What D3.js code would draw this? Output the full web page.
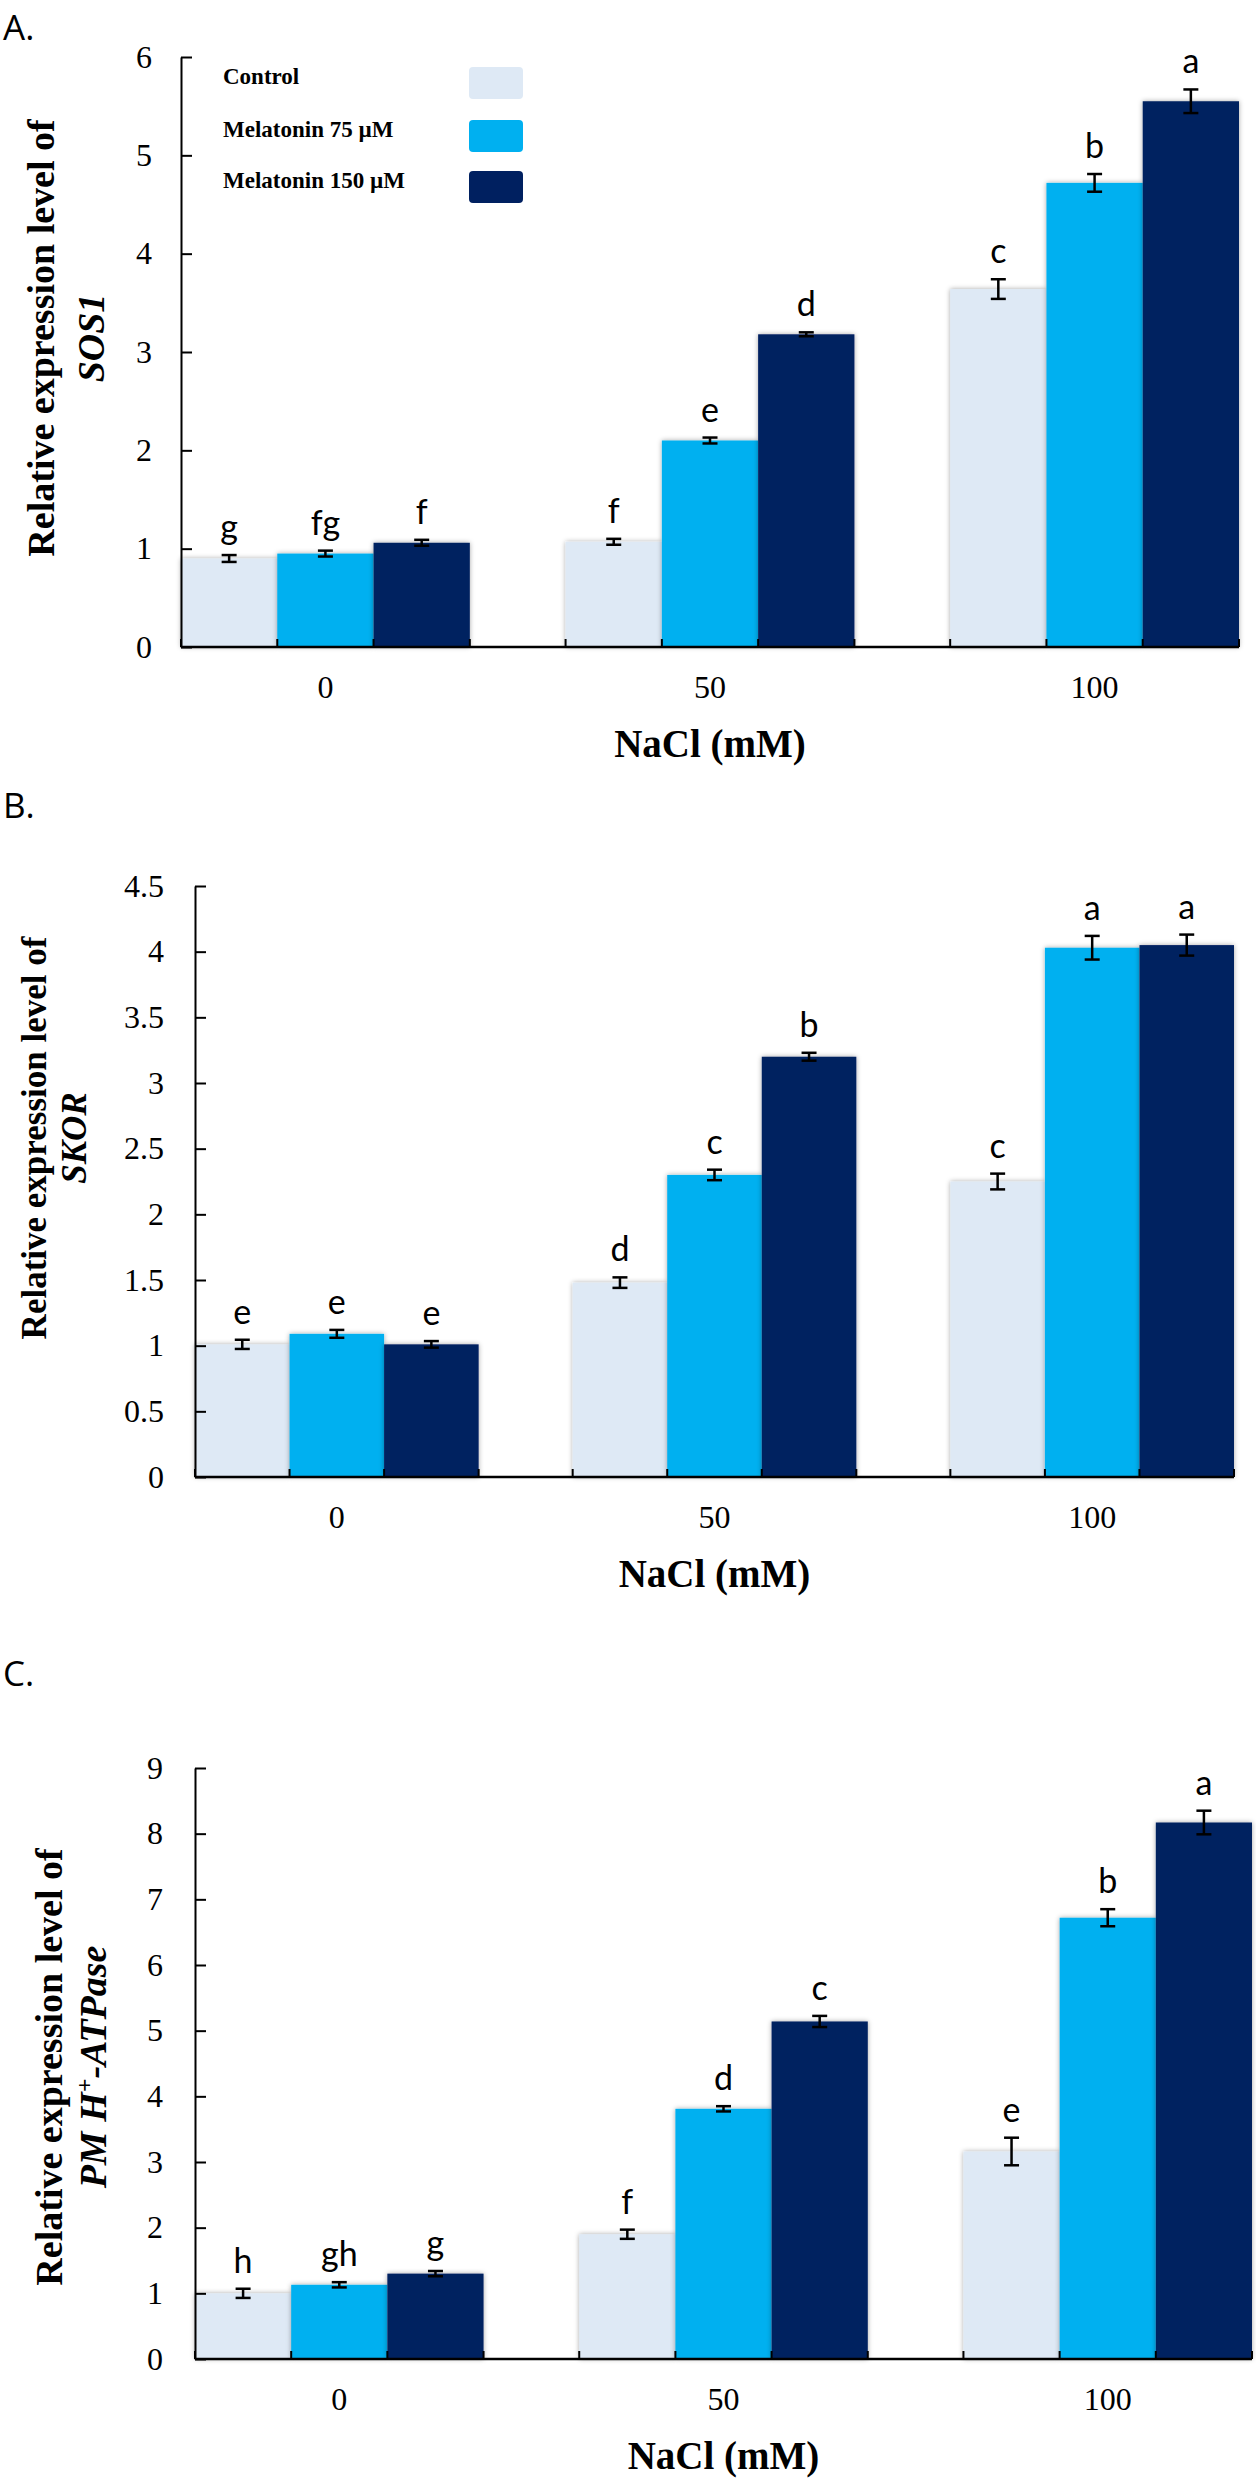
<!DOCTYPE html>
<html>
<head>
<meta charset="utf-8">
<script src="https://cdn.jsdelivr.net/npm/d3@7"></script>
<style>
  body { margin: 0; background: #fff; }
</style>
</head>
<body>
<script>
// NaCl levels on the x axis, treatments are the three bars in each group
var nacl = ["0", "50", "100"];
var treatments = ["Control", "Melatonin 75 µM", "Melatonin 150 µM"];
var colors = ["#dee9f5", "#00b0f0", "#002060"];

// rows follow nacl, columns follow treatments
var sos1Mean = [[0.90, 0.95, 1.06], [1.07, 2.10, 3.18], [3.64, 4.72, 5.55]];
var sos1Err = [[0.035, 0.03, 0.03], [0.03, 0.03, 0.02], [0.10, 0.09, 0.12]];
var sos1Letters = [["g", "fg", "f"], ["f", "e", "d"], ["c", "b", "a"]];
var sos1Ticks = [0, 1, 2, 3, 4, 5, 6];

var skorMean = [[1.01, 1.09, 1.01], [1.48, 2.30, 3.20], [2.25, 4.03, 4.05]];
var skorErr = [[0.035, 0.03, 0.025], [0.04, 0.04, 0.03], [0.06, 0.09, 0.08]];
var skorLetters = [["e", "e", "e"], ["d", "c", "b"], ["c", "a", "a"]];
var skorTicks = [0, 0.5, 1, 1.5, 2, 2.5, 3, 3.5, 4, 4.5];

var atpMean = [[1.00, 1.13, 1.30], [1.90, 3.81, 5.14], [3.16, 6.72, 8.17]];
var atpErr = [[0.07, 0.04, 0.04], [0.07, 0.04, 0.085], [0.21, 0.13, 0.18]];
var atpLetters = [["h", "gh", "g"], ["f", "d", "c"], ["e", "b", "a"]];
var atpTicks = [0, 1, 2, 3, 4, 5, 6, 7, 8, 9];

var serif = "'Liberation Serif', 'Times New Roman', serif";
var sans = "Lato, 'Open Sans', sans-serif";

var svg = d3.select("body").append("svg")
    .attr("width", 1256)
    .attr("height", 2480)
    .style("display", "block");

var defs = svg.append("defs");
defs.append("filter").attr("id", "shadow")
    .attr("x", "-10%").attr("y", "-10%").attr("width", "120%").attr("height", "120%")
    .append("feDropShadow")
    .attr("dx", 0).attr("dy", 0)
    .attr("stdDeviation", 2.5)
    .attr("flood-color", "#000")
    .attr("flood-opacity", 0.35);

// layout of each panel (pixel positions only)
var panels = [
    { tag: "A.", tagY: 40, mean: sos1Mean, err: sos1Err, letters: sos1Letters, ticks: sos1Ticks,
      left: 181, right: 1239, top: 57, bottom: 647, pad: 29,
      gene: "SOS1", titleMid: 338, t1: 54, t2: 104, titleSize: 38, legend: true },
    { tag: "B.", tagY: 818, mean: skorMean, err: skorErr, letters: skorLetters, ticks: skorTicks,
      left: 195, right: 1234, top: 886, bottom: 1477, pad: 31,
      gene: "SKOR", titleMid: 1138, t1: 46, t2: 86, titleSize: 35 },
    { tag: "C.", tagY: 1686, mean: atpMean, err: atpErr, letters: atpLetters, ticks: atpTicks,
      left: 195, right: 1252, top: 1768, bottom: 2359, pad: 32,
      gene: "PM", titleMid: 2067, t1: 62, t2: 106, titleSize: 38 }
];

panels.forEach(function (p) {
    var g = svg.append("g");

    var x = d3.scaleBand().domain(nacl).range([p.left, p.right])
        .paddingInner(0.249).paddingOuter(0);
    var xs = d3.scaleBand().domain(treatments).range([0, x.bandwidth()]);
    var y = d3.scaleLinear().domain([0, d3.max(p.ticks)]).range([p.bottom, p.top]);

    // panel tag
    g.append("text")
        .attr("x", 3).attr("y", p.tagY)
        .style("font-family", "'Open Sans', sans-serif")
        .style("font-size", "35px")
        .text(p.tag);

    // bars
    var groups = g.selectAll(".grp").data(nacl).enter().append("g")
        .attr("transform", function (d) { return "translate(" + x(d) + ",0)"; });

    groups.each(function (cat, i) {
        var gg = d3.select(this);
        var rows = treatments.map(function (t, j) {
            return { t: t, v: p.mean[i][j], e: p.err[i][j], l: p.letters[i][j], c: colors[j] };
        });
        gg.selectAll("rect").data(rows).enter().append("rect")
            .attr("x", function (d) { return xs(d.t); })
            .attr("y", function (d) { return y(d.v); })
            .attr("width", xs.bandwidth())
            .attr("height", function (d) { return y(0) - y(d.v); })
            .attr("fill", function (d) { return d.c; })
            .attr("filter", "url(#shadow)");

        var eb = gg.selectAll(".err").data(rows).enter().append("g")
            .attr("transform", function (d) { return "translate(" + (xs(d.t) + xs.bandwidth() / 2) + ",0)"; });
        eb.append("line")
            .attr("y1", function (d) { return y(d.v - d.e); })
            .attr("y2", function (d) { return y(d.v + d.e); });
        eb.append("line").attr("x1", -7.5).attr("x2", 7.5)
            .attr("y1", function (d) { return y(d.v + d.e); })
            .attr("y2", function (d) { return y(d.v + d.e); });
        eb.append("line").attr("x1", -7.5).attr("x2", 7.5)
            .attr("y1", function (d) { return y(d.v - d.e); })
            .attr("y2", function (d) { return y(d.v - d.e); });
        eb.selectAll("line").attr("stroke", "#000").attr("stroke-width", 2.5);

        eb.append("text")
            .attr("y", function (d) { return y(d.v + d.e) - 16; })
            .attr("text-anchor", "middle")
            .style("font-family", sans)
            .style("font-size", "34px")
            .text(function (d) { return d.l; });

        // little upward ticks at bar edges
        var edges = treatments.map(function (t) { return xs(t); }).concat([x.bandwidth()]);
        gg.selectAll(".edge").data(edges).enter().append("line")
            .attr("x1", function (d) { return d; }).attr("x2", function (d) { return d; })
            .attr("y1", p.bottom).attr("y2", p.bottom - 8)
            .attr("stroke", "#000").attr("stroke-width", 2);
    });

    // y axis, ticks pointing inward
    var yAxis = g.append("g")
        .attr("transform", "translate(" + p.left + ",0)")
        .call(d3.axisLeft(y).tickValues(p.ticks).tickSize(-11).tickSizeOuter(0)
            .tickPadding(p.pad).tickFormat(function (d) { return String(d); }));
    yAxis.select(".domain").attr("stroke-width", 2);
    yAxis.selectAll(".tick line").attr("stroke-width", 2);
    yAxis.selectAll("text").style("font-family", serif).style("font-size", "32px").attr("fill", "#000");

    // x axis line + category labels
    g.append("line")
        .attr("x1", p.left).attr("x2", p.right)
        .attr("y1", p.bottom).attr("y2", p.bottom)
        .attr("stroke", "#000").attr("stroke-width", 2.5);
    var xAxis = g.append("g")
        .attr("transform", "translate(0," + p.bottom + ")")
        .call(d3.axisBottom(x).tickSize(0).tickPadding(28));
    xAxis.select(".domain").remove();
    xAxis.selectAll("text").style("font-family", serif).style("font-size", "32px").attr("fill", "#000");

    g.append("text")
        .attr("x", (p.left + p.right) / 2)
        .attr("y", p.bottom + 110)
        .attr("text-anchor", "middle")
        .style("font-family", serif).style("font-size", "39px").style("font-weight", "bold")
        .text("NaCl (mM)");

    // y title, two lines
    var yt = g.append("text")
        .attr("transform", "rotate(-90)")
        .attr("text-anchor", "middle")
        .style("font-family", serif).style("font-size", p.titleSize + "px").style("font-weight", "bold");
    yt.append("tspan").attr("x", -p.titleMid).attr("y", p.t1).text("Relative expression level of");
    var l2 = yt.append("tspan").attr("x", -p.titleMid).attr("y", p.t2).style("font-style", "italic");
    if (p.gene === "PM") {
        l2.append("tspan").text("PM H");
        l2.append("tspan").attr("dy", -14).style("font-size", "24px").text("+");
        l2.append("tspan").attr("dy", 14).text("-ATPase");
    } else {
        l2.text(p.gene);
    }

    if (p.legend) {
        var lg = g.selectAll(".leg").data(treatments).enter().append("g")
            .attr("transform", function (d, i) { return "translate(0," + [84, 137, 188][i] + ")"; });
        lg.append("text").attr("x", 223)
            .style("font-family", serif).style("font-size", "23px").style("font-weight", "bold")
            .text(function (d) { return d; });
        lg.append("rect").attr("x", 469).attr("y", -17).attr("width", 54).attr("height", 32).attr("rx", 4)
            .attr("fill", function (d, i) { return colors[i]; });
    }
});
</script>
</body>
</html>
